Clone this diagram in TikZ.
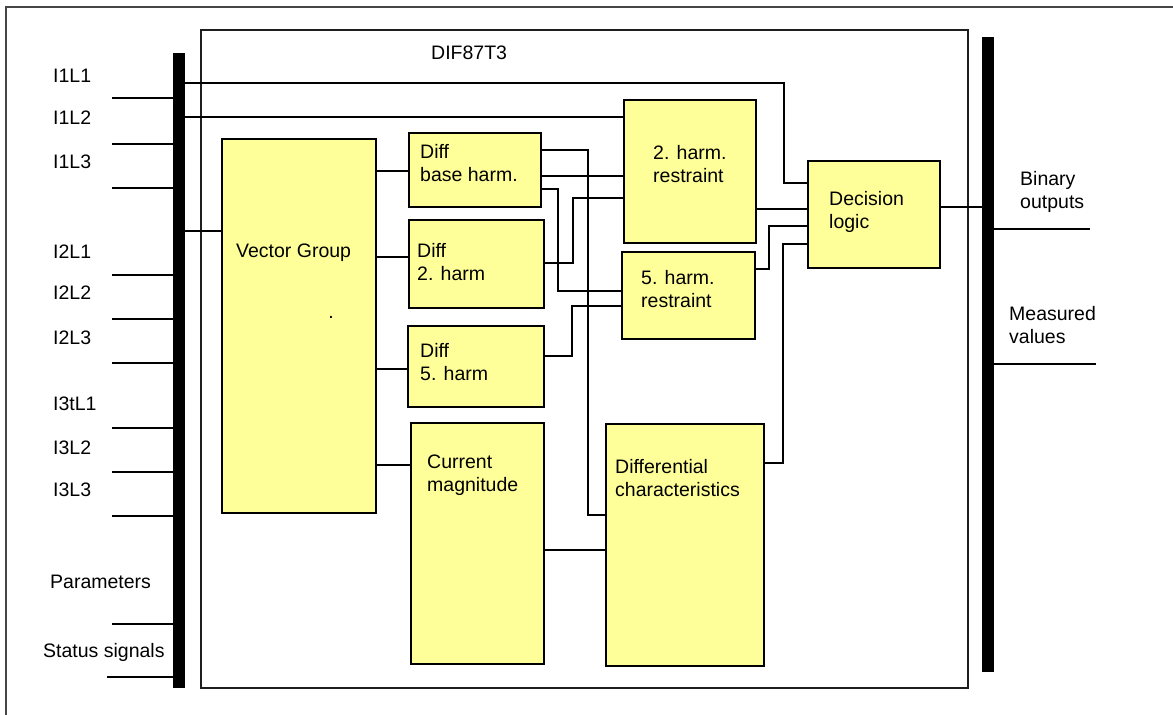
\documentclass[tikz,border=0pt]{standalone}
\usepackage{fontspec}
\setmainfont{Liberation Sans}
\definecolor{boxyellow}{RGB}{255,255,153}
\definecolor{framegray}{RGB}{70,70,70}
\definecolor{innergray}{RGB}{30,30,30}
\begin{document}
\begin{tikzpicture}[x=1pt,y=-1pt,
  blk/.style={draw=black, line width=2.4pt, fill=boxyellow, inner sep=0pt, anchor=north west},
  busbar/.style={fill=black, draw=none, inner sep=0pt, anchor=north west, minimum width=11.5pt},
  txt/.style={font=\fontsize{19.5}{23}\selectfont, inner sep=0pt, anchor=north west, align=left},
  conn/.style={line width=1.4pt, black},
  inp/.style={line width=1.9pt, black},
  frameline/.style={line width=1.5pt, draw=framegray}
]
\useasboundingbox (0,0) rectangle (1173,715);
% outer frame (only left and top edges are visible)
\draw[frameline] (6,715) -- (6,7) -- (1173,7);

% function block frame
\node[draw=innergray, line width=1.5pt, inner sep=0pt, anchor=north west,
      minimum width=767pt, minimum height=658pt] (dif) at (200,29) {};
\node[txt] (title) at (431,46) {DIF87T3};

% busbars
\node[busbar, minimum height=635pt] (lbus) at (173,53) {};
\node[busbar, minimum height=635pt] (rbus) at (982,37) {};

% blocks
\node[blk, minimum width=154pt, minimum height=374pt] (vg)  at (221,138) {};
\node[blk, minimum width=132pt, minimum height=74pt]  (dbh) at (408,132) {};
\node[blk, minimum width=135pt, minimum height=88pt]  (d2h) at (408,219) {};
\node[blk, minimum width=136pt, minimum height=81pt]  (d5h) at (407,325) {};
\node[blk, minimum width=133pt, minimum height=241pt] (cm)  at (410,422) {};
\node[blk, minimum width=158pt, minimum height=242pt] (dc)  at (605,423) {};
\node[blk, minimum width=132pt, minimum height=143pt] (r2)  at (623,99) {};
\node[blk, minimum width=133pt, minimum height=87pt]  (r5)  at (621,251) {};
\node[blk, minimum width=132pt, minimum height=107pt] (dl)  at (807,160) {};

% block texts
\node[txt] (tvg)  at (236,244) {Vector Group};
\node[font=\fontsize{19.5}{23}\selectfont, inner sep=0pt, anchor=base] (tdot) at (331,318) {.};
\node[txt] (tdbh) at (420,144) {Diff\\base harm.};
\node[txt] (td2h) at (417,243) {Diff\\2. harm};
\node[txt] (td5h) at (420,343) {Diff\\5. harm};
\node[txt] (tcm)  at (427,455) {Current\\magnitude};
\node[txt] (tdc)  at (615,459) {Differential\\characteristics};
\node[txt] (tr2)  at (653,145) {2. harm.\\restraint};
\node[txt] (tr5)  at (641,270) {5. harm.\\restraint};
\node[txt] (tdl)  at (829,191) {Decision\\logic};

% left labels
\node[txt] (l1) at (53,69)  {I1L1};
\node[txt] (l2) at (53,111) {I1L2};
\node[txt] (l3) at (53,155) {I1L3};
\node[txt] (l4) at (53,245) {I2L1};
\node[txt] (l5) at (53,286) {I2L2};
\node[txt] (l6) at (53,331) {I2L3};
\node[txt] (l7) at (53,397) {I3tL1};
\node[txt] (l8) at (53,441) {I3L2};
\node[txt] (l9) at (53,483) {I3L3};
\node[txt] (lp) at (50,575) {Parameters};
\node[txt] (ls) at (43,643) {Status signals};

% right labels
\node[txt] (rb) at (1020,171) {Binary\\outputs};
\node[txt] (rm) at (1009,306) {Measured\\values};

% input lines
\foreach \yy in {98,144,188,275,319,363,428,472,516,624}
  \draw[inp] (112,\yy) -- (lbus.west |- 0,\yy);
\draw[inp] (107,677) -- (lbus.west |- 0,677);

% output lines
\draw[inp] (rbus.east |- 0,229) -- (1090,229);
\draw[inp] (rbus.east |- 0,364) -- (1096,364);

% connectors
\draw[conn] (lbus.east |- 0,83) -- (784,83) |- (dl.west |- 0,183);
\draw[conn] (lbus.east |- 0,117) -- (r2.west |- 0,117);
\draw[conn] (lbus.east |- 0,231) -- (vg.west |- 0,231);

\draw[conn] (vg.east |- 0,171) -- (dbh.west |- 0,171);
\draw[conn] (vg.east |- 0,257) -- (d2h.west |- 0,257);
\draw[conn] (vg.east |- 0,369) -- (d5h.west |- 0,369);
\draw[conn] (vg.east |- 0,465) -- (cm.west |- 0,465);

\draw[conn] (dbh.east |- 0,150) -- (588,150) |- (dc.west |- 0,515);
\draw[conn] (dbh.east |- 0,176) -- (r2.west |- 0,176);
\draw[conn] (dbh.east |- 0,189) -- (558,189) |- (r5.west |- 0,291);
\draw[conn] (d2h.east |- 0,263) -- (573,263) |- (r2.west |- 0,198);
\draw[conn] (d5h.east |- 0,356) -- (572,356) |- (r5.west |- 0,306);
\draw[conn] (cm.east |- 0,550) -- (dc.west |- 0,550);

\draw[conn] (r2.east |- 0,209) -- (dl.west |- 0,209);
\draw[conn] (r5.east |- 0,269) -- (769,269) |- (dl.west |- 0,226);
\draw[conn] (dc.east |- 0,463) -- (783,463) |- (dl.west |- 0,244);
\draw[conn] (dl.east |- 0,207) -- (rbus.west |- 0,207);
\end{tikzpicture}
\end{document}
